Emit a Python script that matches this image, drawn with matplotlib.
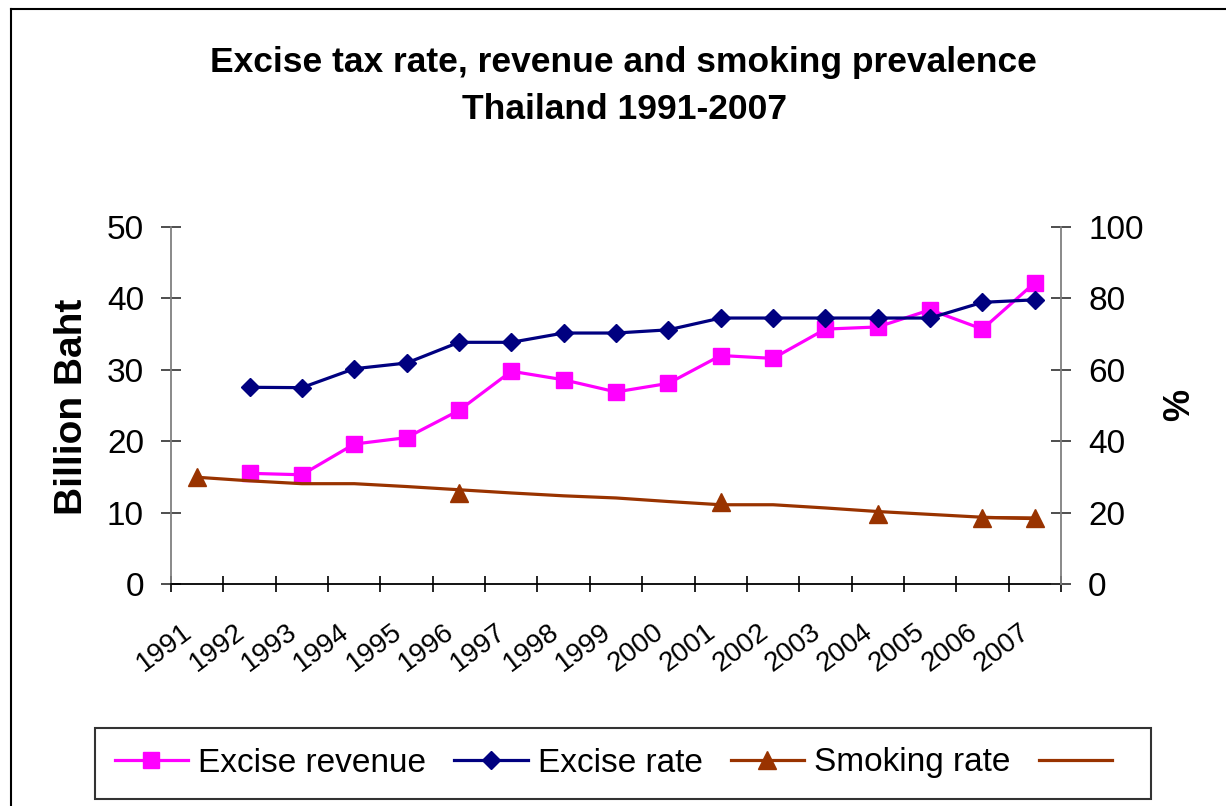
import numpy as np
from matplotlib import pyplot as plt
from matplotlib.lines import Line2D

plt.rcParams['font.family'] = ['Liberation Sans', 'DejaVu Sans']

years = [str(y) for y in range(1991, 2008)]
nan = np.nan
# billion baht (left axis)
excise_revenue = [nan, 15.5, 15.3, 19.6, 20.5, 24.3, 29.8, 28.6, 26.9, 28.1,
                  32.0, 31.6, 35.7, 36.0, 38.4, 35.7, 42.2]
# percent (right axis)
excise_rate = [nan, 55.1, 55.0, 60.3, 61.9, 67.7, 67.7, 70.3, 70.3, 71.2,
               74.5, 74.5, 74.5, 74.5, 74.5, 78.9, 79.6]
smoking_rate = [30.0, nan, nan, nan, nan, 25.4, nan, nan, nan, nan,
                22.9, nan, nan, 19.6, nan, 18.6, 18.5]
smoking_trend = [29.9, 28.9, 28.1, 28.1, 27.3, 26.4, 25.5, 24.7, 24.1, 23.1,
                 22.2, 22.2, 21.3, 20.3, 19.5, 18.7, 18.3]

W, H = 1226, 806
fig = plt.figure(figsize=(W / 100, H / 100), dpi=100)
ax = fig.add_axes([171 / W, 1 - 584 / H, (1061 - 171) / W, (584 - 227) / H])
ax2 = ax.twinx()

x = np.arange(len(years))
ax.plot(x, excise_revenue, color='#FF00FF', lw=2.3, marker='s', ms=11,
        label='Excise revenue')
ax2.plot(x, excise_rate, color='#000080', lw=2.3, marker='D', ms=9.5,
         label='Excise rate')
ax2.plot(x, smoking_rate, color='#993300', lw=2.3, marker='^', ms=13,
         label='Smoking rate')
ax2.plot(x, smoking_trend, color='#993300', lw=2.3, label=' ')

ax.set_xlim(-0.5, len(years) - 0.5)
ax.set_ylim(0, 50)
ax2.set_ylim(0, 100)
ax.set_yticks(range(0, 51, 10))
ax2.set_yticks(range(0, 101, 20))

for a in (ax, ax2):
    for s in ('top', 'left', 'right', 'bottom'):
        a.spines[s].set_visible(False)
ax.spines['left'].set_visible(True)
ax.spines['left'].set_color('#808080')
ax.spines['left'].set_linewidth(1.3)
ax2.spines['right'].set_visible(True)
ax2.spines['right'].set_color('#808080')
ax2.spines['right'].set_linewidth(1.3)
ax.spines['bottom'].set_visible(True)
ax.spines['bottom'].set_color('black')
ax.spines['bottom'].set_linewidth(1.3)

ax.tick_params(axis='y', direction='inout', length=15, width=1.2,
               color='#303030', labelsize=24, pad=12)
ax2.tick_params(axis='y', direction='inout', length=15, width=1.2,
                color='#303030', labelsize=24, pad=12)

ax.set_xticks(x)
ax.set_xticklabels(years, rotation=37, ha='right', va='top')
ax.tick_params(axis='x', which='major', length=0, labelsize=20, pad=25)
ax.set_xticks(np.arange(-0.5, len(years), 1), minor=True)
ax.tick_params(axis='x', which='minor', direction='inout', length=12,
               width=1.2, color='black')

fig.text(623 / W, 1 - 72 / H, 'Excise tax rate, revenue and smoking prevalence',
         ha='center', va='baseline', fontsize=25.5, fontweight='bold')
fig.text(625 / W, 1 - 119 / H, 'Thailand 1991-2007',
         ha='center', va='baseline', fontsize=25.5, fontweight='bold')
fig.text(72 / W, 1 - 407 / H, 'Billion Baht', rotation=90, ha='center',
         va='center', fontsize=28, fontweight='bold')
fig.text(1180 / W, 1 - 405 / H, '%', rotation=90, ha='center',
         va='center', fontsize=26, fontweight='bold')

handles = ax.get_lines() + ax2.get_lines()
labels = [h.get_label() for h in handles]
leg = fig.legend(handles, labels, loc='center', ncol=4,
                 bbox_to_anchor=((92 + 1154) / 2 / W, 1 - 763 / H),
                 fontsize=24, frameon=True, fancybox=False, numpoints=1,
                 handlelength=2.2, handletextpad=0.3, columnspacing=0.85,
                 borderpad=0.6, edgecolor='black')
leg.get_frame().set_linewidth(1.5)

# outer chart frame (clipped at right and bottom in the source)
fig.add_artist(Line2D([11 / W, 11 / W], [0, 1 - 9 / H], color='black', lw=1.5))
fig.add_artist(Line2D([11 / W, 1], [1 - 9 / H, 1 - 9 / H], color='black', lw=1.5))

fig.savefig('out.png', dpi=100)
